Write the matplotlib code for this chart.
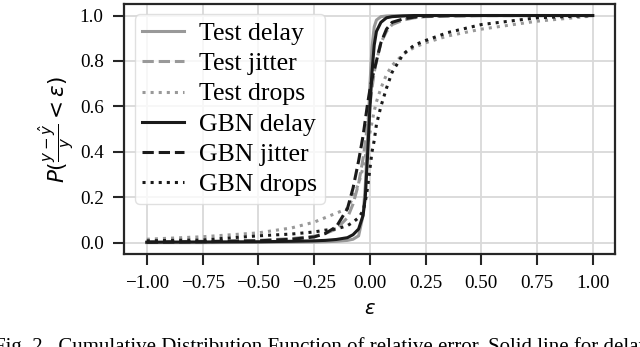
import matplotlib
matplotlib.use("Agg")
import matplotlib.pyplot as plt

eps = [-1.0, -0.75, -0.5, -0.35, -0.25, -0.2, -0.15, -0.1, -0.075, -0.05, -0.03, -0.02,
       -0.01, 0.0, 0.01, 0.02, 0.03, 0.05, 0.075, 0.1, 0.15, 0.2, 0.25, 0.35, 0.5, 0.75, 1.0]

test_delay = [0.0, 0.0, 0.001, 0.002, 0.003, 0.004, 0.006, 0.01, 0.015, 0.03, 0.12, 0.25,
              0.45, 0.68, 0.86, 0.95, 0.98, 0.995, 0.998, 0.999, 1.0, 1.0, 1.0, 1.0, 1.0, 1.0, 1.0]
test_jitter = [0.003, 0.006, 0.01, 0.018, 0.028, 0.04, 0.06, 0.11, 0.17, 0.26, 0.37, 0.44,
               0.52, 0.6, 0.68, 0.75, 0.8, 0.88, 0.93, 0.96, 0.98, 0.99, 0.995, 0.998, 1.0, 1.0, 1.0]
test_drops = [0.015, 0.026, 0.043, 0.065, 0.09, 0.11, 0.13, 0.15, 0.2, 0.26, 0.33, 0.38,
              0.43, 0.48, 0.53, 0.58, 0.62, 0.68, 0.74, 0.78, 0.83, 0.86, 0.88, 0.91, 0.94, 0.975, 0.998]
gbn_delay = [0.002, 0.003, 0.004, 0.006, 0.008, 0.01, 0.014, 0.022, 0.035, 0.06, 0.12, 0.2,
             0.38, 0.58, 0.75, 0.87, 0.93, 0.97, 0.99, 0.995, 0.998, 1.0, 1.0, 1.0, 1.0, 1.0, 1.0]
gbn_jitter = [0.002, 0.004, 0.008, 0.015, 0.025, 0.04, 0.07, 0.15, 0.24, 0.36, 0.47, 0.54,
              0.61, 0.67, 0.72, 0.76, 0.8, 0.88, 0.94, 0.97, 0.985, 0.993, 0.997, 0.999, 1.0, 1.0, 1.0]
gbn_drops = [0.008, 0.012, 0.03, 0.038, 0.047, 0.055, 0.06, 0.075, 0.09, 0.11, 0.14, 0.18,
             0.24, 0.32, 0.4, 0.45, 0.52, 0.6, 0.68, 0.75, 0.83, 0.87, 0.89, 0.925, 0.96, 0.99, 1.0]

labels = ["Test delay", "Test jitter", "Test drops", "GBN delay", "GBN jitter", "GBN drops"]
series = [test_delay, test_jitter, test_drops, gbn_delay, gbn_jitter, gbn_drops]
colors = ["#999999"] * 3 + ["#1a1a1a"] * 3
styles = ["-", "--", ":", "-", "--", ":"]

x_ticks = [-1.0, -0.75, -0.5, -0.25, 0.0, 0.25, 0.5, 0.75, 1.0]
y_ticks = [0.0, 0.2, 0.4, 0.6, 0.8, 1.0]

caption = "Fig. 2.  Cumulative Distribution Function of relative error. Solid line for delay"

plt.rcParams["mathtext.fontset"] = "dejavusans"
fig = plt.figure(figsize=(6.4, 3.47), dpi=100)
ax = fig.add_axes([0.1945, 0.268, 0.7665, 0.72])

for vals, lab, c, ls in zip(series, labels, colors, styles):
    ax.plot(eps, vals, color=c, linestyle=ls, linewidth=2.2, label=lab)

ax.set_xticks(x_ticks)
ax.set_xticklabels([f"{t:.2f}".replace("-", "\u2212") for t in x_ticks],
                   fontfamily="Liberation Serif", fontsize=13.8)
ax.set_yticks(y_ticks)
ax.set_yticklabels([f"{t:.1f}" for t in y_ticks], fontfamily="Liberation Serif", fontsize=13.8)
ax.grid(True, color="#d9d9d9", linewidth=1.3)
ax.set_axisbelow(True)
for s in ax.spines.values():
    s.set_color("#262626")
    s.set_linewidth(1.6)
ax.tick_params(direction="out", length=8, width=1.5, color="#262626", pad=7)

ax.set_xlabel(r"$\varepsilon$", fontsize=14, labelpad=5)
ax.set_ylabel(r"$P(\frac{y-\hat{y}}{y} < \varepsilon)$", fontsize=15.5, labelpad=3)

leg = ax.legend(loc="upper left", prop={"family": "Liberation Serif", "size": 18.5},
                handlelength=1.6, labelspacing=0.28, borderpad=0.3, handletextpad=0.6,
                borderaxespad=0.4, framealpha=0.8, edgecolor="#d9d9d9", fancybox=True)

fig.text(-0.01, -0.014, caption, fontfamily="Liberation Serif", fontsize=15,
         ha="left", va="baseline")

fig.savefig("out.png", dpi=100)
